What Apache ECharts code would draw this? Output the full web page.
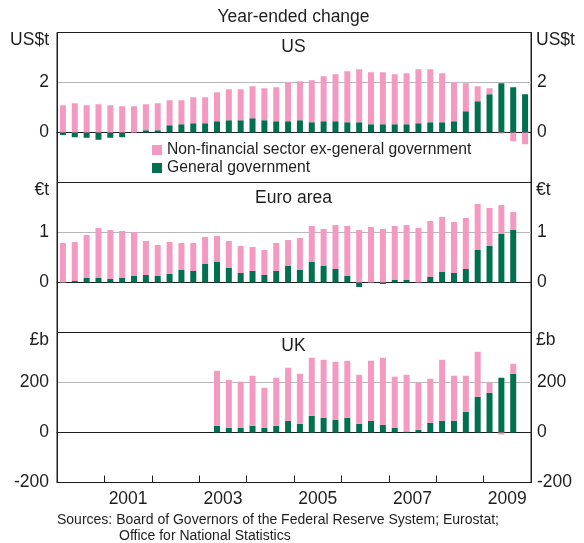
<!DOCTYPE html>
<html>
<head>
<meta charset="utf-8">
<script src="https://cdn.jsdelivr.net/npm/echarts@6/dist/echarts.min.js"></script>
<style>
html,body{margin:0;padding:0;background:#fff;}
#chart{width:584px;height:543px;}
</style>
</head>
<body>
<div id="chart"></div>
<script>
// Quarterly categories 2000Q1 .. 2009Q4
const quarters = [];
for (let y = 2000; y <= 2009; y++) for (let q = 1; q <= 4; q++) quarters.push(y + 'Q' + q);
const years = ['2000','2001','2002','2003','2004','2005','2006','2007','2008','2009'];

// US (US$ trillion)
const usGov = [-0.10,-0.19,-0.21,-0.29,-0.21,-0.19,0,0.09,0.09,0.29,0.33,0.37,0.37,0.45,0.49,0.49,0.57,0.49,0.45,0.45,0.49,0.41,0.45,0.45,0.41,0.41,0.33,0.33,0.33,0.33,0.37,0.41,0.41,0.45,0.85,1.25,1.53,1.97,1.81,1.53];
const usNonFin = [1.09,1.17,1.09,1.13,1.09,1.05,1.05,1.04,1.08,1.00,0.96,1.04,1.04,1.16,1.24,1.24,1.28,1.28,1.36,1.56,1.56,1.68,1.80,1.88,2.04,2.12,2.08,2.08,2.00,2.04,2.16,2.12,1.96,1.56,1.12,0.60,0.24,-0.04,-0.35,-0.47];

// Euro area (EUR trillion)
const euGov = [0,0.03,0.09,0.09,0.07,0.09,0.13,0.15,0.13,0.17,0.25,0.23,0.37,0.41,0.29,0.19,0.23,0.15,0.23,0.33,0.25,0.41,0.33,0.27,0.13,-0.09,0,-0.03,0.05,0.05,0,0.11,0.21,0.19,0.27,0.65,0.73,0.97,1.05,null];
const euNonFin = [0.79,0.78,0.86,1.00,0.98,0.94,0.88,0.68,0.62,0.64,0.54,0.56,0.54,0.52,0.54,0.54,0.48,0.50,0.56,0.52,0.64,0.72,0.74,0.88,1.00,1.05,1.11,1.07,1.08,1.10,1.09,1.12,1.10,1.02,1.02,0.92,0.76,0.58,0.36,null];

// UK (GBP billion)
const ukGov = [null,null,null,null,null,null,null,null,null,null,null,null,null,27,19,19,27,19,27,47,35,67,59,51,59,35,47,31,19,4,11,39,47,47,83,143,159,219,235,null];
const ukNonFin = [null,null,null,null,null,null,null,null,null,null,null,null,null,220,192,184,200,160,192,212,200,232,232,232,228,196,240,268,204,227,188,176,244,180,144,180,40,-8,40,null];

const panelTitles = ['US','Euro area','UK'];
const units = ['US$t','€t','£b'];
const yMin = [-2,-1,-200], yMax = [4,2,400], yInt = [2,1,200];
const labelYears = ['2001','2003','2005','2007','2009'];

const PINK = '#f49ac1', GREEN = '#00704f', INK = '#1e1e1e', GRIDC = '#b8b8b8';
const FONT = '"Liberation Sans", Arial, sans-serif';
const NF = 'Non-financial sector ex-general government', GG = 'General government';
const FS = 17.5;

const L = 57, R = 53, TOPS = [32.5, 182.5, 332.5], H = 150;
const chart = echarts.init(document.getElementById('chart'), null, {renderer:'canvas'});

const grids = TOPS.map(t => ({left:L, right:R, top:t, height:H, show:true, borderColor:INK, borderWidth:1, backgroundColor:'transparent'}));
const xAxes = [], yAxes = [], series = [];
const govs = [usGov, euGov, ukGov], nons = [usNonFin, euNonFin, ukNonFin];
for (let i = 0; i < 3; i++) {
  xAxes.push({type:'category', gridIndex:i, data:quarters, boundaryGap:true,
    axisLine:{show:true, onZero:true, onZeroAxisIndex: i*2, lineStyle:{color:INK, width:1}},
    axisTick:{show:false}, axisLabel:{show:false}, splitLine:{show:false}});
  const base = {type:'value', gridIndex:i, min:yMin[i], max:yMax[i], interval:yInt[i]};
  yAxes.push(Object.assign({}, base, {position:'left',
    axisLine:{show:true, lineStyle:{color:INK}}, axisTick:{show:false},
    axisLabel:{showMinLabel: i===2, showMaxLabel:false, fontSize:FS, color:INK, fontFamily:FONT, margin:8},
    splitLine:{show:true, showMinLine:false, showMaxLine:false, lineStyle:{color:GRIDC, width:1}}}));
  yAxes.push(Object.assign({}, base, {position:'right',
    axisLine:{show:true, lineStyle:{color:INK}}, axisTick:{show:false},
    axisLabel:{showMinLabel: i===2, showMaxLabel:false, fontSize:FS, color:INK, fontFamily:FONT, margin:6},
    splitLine:{show:false}}));
  series.push({name:GG, type:'bar', xAxisIndex:i, yAxisIndex:i*2, stack:'s'+i, data:govs[i],
    itemStyle:{color:GREEN}, barWidth:6, animation:false});
  series.push({name:NF, type:'bar', xAxisIndex:i, yAxisIndex:i*2, stack:'s'+i, data:nons[i],
    itemStyle:{color:PINK}, barWidth:6, animation:false});
}
// Year axis for the bottom panel (labels and ticks)
xAxes.push({type:'category', gridIndex:2, data:years, position:'bottom', boundaryGap:true,
  axisLine:{show:true, onZero:false, lineStyle:{color:INK}},
  axisTick:{show:true, inside:true, length:7, interval:0, lineStyle:{color:INK}},
  axisLabel:{interval:0, fontSize:FS, color:INK, fontFamily:FONT, margin:8,
    formatter: v => labelYears.indexOf(v) >= 0 ? v : ''},
  splitLine:{show:false}});

const graphic = [];
const txt = (x, y, s, size, align) => ({type:'text', x:x, y:y, silent:true,
  style:{text:s, fill:INK, font:size+'px '+FONT, textAlign:align||'center', textVerticalAlign:'middle'}});
graphic.push(txt(293.5, 17, 'Year-ended change', FS));
const titleY = [47, 198, 346];
const unitY = [40, 190, 340];
for (let i = 0; i < 3; i++) {
  graphic.push(txt(293.5, titleY[i], panelTitles[i], FS));
  graphic.push(txt(49, unitY[i], units[i], FS, 'right'));
  graphic.push(txt(536, unitY[i], units[i], FS, 'left'));
}
graphic.push(txt(57, 520, 'Sources: Board of Governors of the Federal Reserve System; Eurostat;', 14, 'left'));
graphic.push(txt(119, 536, 'Office for National Statistics', 14, 'left'));

chart.setOption({
  animation:false,
  backgroundColor:'#fff',
  grid: grids,
  xAxis: xAxes,
  yAxis: yAxes,
  legend:{data:[NF, GG], orient:'vertical', left:147, top:137, itemWidth:10, itemHeight:10, itemGap:2,
    selectedMode:false, icon:'rect', textStyle:{fontSize:15.7, color:INK, fontFamily:FONT, lineHeight:16}},
  series: series,
  graphic: graphic
});
</script>
</body>
</html>
